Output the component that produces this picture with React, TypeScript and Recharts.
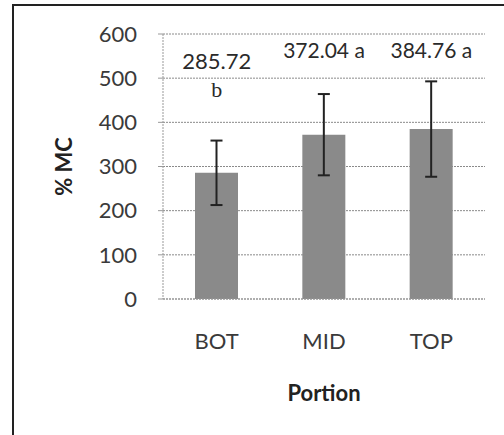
import React from 'react';
import { ComposedChart, Bar, Line, XAxis, YAxis, CartesianGrid, ErrorBar, LabelList } from 'recharts';

const categories = ['BOT', 'MID', 'TOP'];
const means = [285.72, 372.04, 384.76];
const errors = [73, 92, 108];
const labelTexts = ['285.72', '372.04 a', '384.76 a'];
const labelY = [541, 564, 564];
const subTexts = ['b', '', ''];
const subY: (number | null)[] = [475, null, null];
const yTicks = [0, 100, 200, 300, 400, 500, 600];

const data = categories.map((c, i) => ({
  name: c,
  mean: means[i],
  err: errors[i],
  labelY: labelY[i],
  subY: subY[i],
}));

const FONT = 'Lato, "Open Sans", sans-serif';

export default function App() {
  return (
    <div style={{ position: 'absolute', left: 0, top: 0, width: 504, height: 435, background: '#fff' }}>
      <div
        style={{
          position: 'absolute',
          left: 12,
          top: 4,
          width: 500,
          height: 440,
          borderTop: '2px solid #222',
          borderLeft: '2px solid #222',
          boxSizing: 'border-box',
        }}
      />
      <ComposedChart
        width={504}
        height={435}
        data={data}
        margin={{ top: 34, right: 19, left: 13, bottom: 36 }}
        style={{ position: 'absolute', left: 0, top: 0, fontFamily: FONT }}
      >
        <CartesianGrid vertical={false} stroke="#8a8a8a" strokeDasharray="2 1" />
        <XAxis
          dataKey="name"
          height={100}
          tickLine={false}
          tickSize={0}
          tickMargin={34}
          axisLine={{ stroke: '#999', strokeDasharray: '2 1' }}
          tick={{ fill: '#3a3a3a', fontSize: 22, fontFamily: FONT }}
          label={{
            content: (props: any) => {
              const vb = props.viewBox || {};
              return (
                <text
                  x={vb.x + vb.width / 2}
                  y={vb.y + 102}
                  textAnchor="middle"
                  fill="#222"
                  fontSize={22}
                  fontWeight="bold"
                  fontFamily={FONT}
                >
                  Portion
                </text>
              );
            },
          }}
        />
        <YAxis
          domain={[0, 600]}
          ticks={yTicks}
          width={150}
          tickSize={5}
          tickMargin={21}
          tickLine={{ stroke: '#999' }}
          axisLine={{ stroke: '#999', strokeDasharray: '2 1' }}
          tick={{ fill: '#3a3a3a', fontSize: 22, fontFamily: FONT }}
          interval={0}
          label={{
            content: (props: any) => {
              const vb = props.viewBox || {};
              const x = vb.x + 50;
              const y = vb.y + vb.height / 2;
              return (
                <text
                  x={x}
                  y={y}
                  transform={`rotate(-90 ${x} ${y})`}
                  textAnchor="middle"
                  dominantBaseline="central"
                  fill="#222"
                  fontSize={22}
                  fontWeight="bold"
                  fontFamily={FONT}
                >
                  % MC
                </text>
              );
            },
          }}
        />
        <Bar dataKey="mean" fill="#8a8a8a" barSize={43} isAnimationActive={false}>
          <ErrorBar dataKey="err" width={6} stroke="#222" strokeWidth={2} direction="y" />
        </Bar>
        <Line
          dataKey="labelY"
          stroke="none"
          dot={false}
          activeDot={false}
          isAnimationActive={false}
        >
          <LabelList
            dataKey="labelY"
            content={(props: any) => (
              <text
                x={props.x}
                y={props.y}
                textAnchor="middle"
                dominantBaseline="central"
                fill="#2a2a2a"
                fontSize={props.index === 0 ? 22 : 21}
                fontFamily={FONT}
              >
                {labelTexts[props.index]}
              </text>
            )}
          />
        </Line>
        <Line
          dataKey="subY"
          stroke="none"
          dot={false}
          activeDot={false}
          connectNulls={false}
          isAnimationActive={false}
        >
          <LabelList
            dataKey="subY"
            content={(props: any) =>
              props.value == null ? null : (
                <text
                  x={props.x}
                  y={props.y}
                  textAnchor="middle"
                  dominantBaseline="central"
                  fill="#2a2a2a"
                  fontSize={22}
                  fontFamily='"Liberation Serif", serif'
                >
                  {subTexts[props.index]}
                </text>
              )
            }
          />
        </Line>
      </ComposedChart>
    </div>
  );
}
